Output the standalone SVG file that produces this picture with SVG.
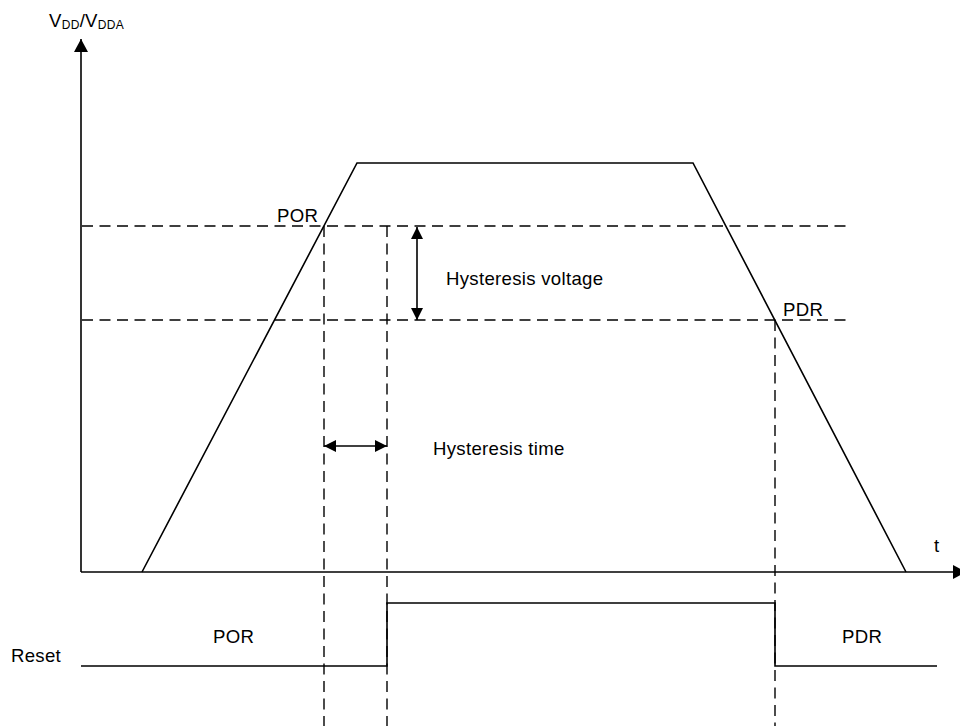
<svg xmlns="http://www.w3.org/2000/svg" width="960" height="726" viewBox="0 0 960 726">
<style>
.s{fill:none;stroke:#000;stroke-width:1.6}
.d{fill:none;stroke:#000;stroke-width:1.4;stroke-dasharray:11 6.5}
.t{font-family:"Liberation Sans",Arial,sans-serif;font-size:18.6px;fill:#000;letter-spacing:0.3px}
.sub{font-size:12px}
</style>
<defs>
<marker id="ah" viewBox="0 0 12 12" refX="12" refY="6" markerWidth="12" markerHeight="12" markerUnits="userSpaceOnUse" orient="auto-start-reverse">
<path d="M0,0 L12,6 L0,12 Z" fill="#000"/>
</marker>
<marker id="ax" viewBox="0 0 13 14" refX="13" refY="7" markerWidth="13" markerHeight="14" markerUnits="userSpaceOnUse" orient="auto">
<path d="M0,0 L13,7 L0,14 Z" fill="#000"/>
</marker>
</defs>
<rect width="960" height="726" fill="#fff"/>
<g id="connectors">
<g id="guides">
<line class="d" x1="82" y1="226" x2="848" y2="226"/>
<line class="d" x1="82" y1="320" x2="848" y2="320"/>
<line class="d" x1="324" y1="226" x2="324" y2="726"/>
<line class="d" x1="387" y1="226" x2="387" y2="726"/>
<line class="d" x1="775" y1="320" x2="775" y2="726"/>
</g>
<g id="axes">
<line class="s" x1="81" y1="572" x2="81" y2="39" marker-end="url(#ax)"/>
<line class="s" x1="81" y1="572" x2="966" y2="572" marker-end="url(#ax)"/>
</g>
<g id="hysteresis-arrows">
<line class="s" x1="417" y1="227" x2="417" y2="320" marker-start="url(#ah)" marker-end="url(#ah)"/>
<line class="s" x1="324" y1="446" x2="387" y2="446" marker-start="url(#ah)" marker-end="url(#ah)"/>
</g>
</g>
<g id="vdd-curve">
<polyline class="s" points="142,572 357,163 693,163 906,572"/>
</g>
<g id="reset-signal">
<polyline class="s" points="81,666 387,666 387,603 775,603 775,666 937,666"/>
</g>
<g id="labels">
<text class="t" x="49" y="27">V<tspan class="sub" dy="1.5">DD</tspan><tspan dy="-1.5">/V</tspan><tspan class="sub" dy="1.5">DDA</tspan></text>
<text class="t" x="277" y="222">POR</text>
<text class="t" x="783" y="316">PDR</text>
<text class="t" x="446" y="285">Hysteresis voltage</text>
<text class="t" x="433" y="455">Hysteresis time</text>
<text class="t" x="934" y="552">t</text>
<text class="t" x="11" y="662">Reset</text>
<text class="t" x="213" y="643">POR</text>
<text class="t" x="842" y="643">PDR</text>
</g>
</svg>
